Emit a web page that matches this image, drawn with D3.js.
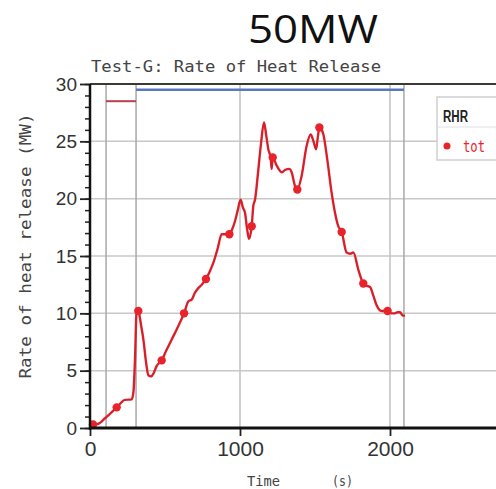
<!DOCTYPE html>
<html><head><meta charset="utf-8">
<script src="https://cdn.jsdelivr.net/npm/d3@7"></script>
<style>html,body{margin:0;padding:0;background:#fff;overflow:hidden}</style>
</head><body>
<svg id="c" width="496" height="489"></svg>
<script>
// ---- data ----
const rhrTime = [0,50,100,178,233,278,290,300,311,322,340,356,375,389,407,425,444,478,510,544,589,627,656,678,700,722,745,773,800,822,850,878,905,929,950,967,985,1004,1020,1033,1048,1060,1078,1089,1100,1122,1140,1160,1175,1189,1205,1211,1218,1244,1278,1300,1329,1344,1367,1382,1411,1444,1471,1490,1507,1520,1529,1545,1556,1582,1611,1633,1655,1678,1711,1735,1756,1789,1822,1845,1867,1890,1911,1944,1984,2010,2033,2050,2067,2085,2100];
const rhrValue = [0.3,0.35,0.85,1.8,2.45,2.5,3.2,6.0,10.2,10.2,9.0,7.7,5.6,4.6,4.5,4.8,5.4,5.9,6.8,7.7,8.9,10.0,11.05,11.2,11.8,12.2,12.5,13.0,13.7,14.4,15.6,16.9,16.9,16.9,17.4,18.05,19.0,19.9,19.2,18.8,17.3,16.5,17.6,19.4,19.9,22.5,24.8,26.65,25.5,24.3,23.5,22.6,23.6,22.9,22.3,22.5,22.6,22.3,21.1,20.8,22.0,24.6,25.6,25.0,24.3,25.5,26.2,26.0,25.6,23.4,20.5,18.8,17.6,17.1,15.3,15.2,15.3,13.8,12.6,12.4,12.3,11.5,10.7,10.2,10.2,10.0,10.0,10.1,10.1,9.8,9.8];
const markerTime = [20,178,322,478,627,773,929,1078,1218,1382,1529,1678,1822,1984];
const markerValue = [0.3,1.8,10.2,5.9,10.0,13.0,16.9,17.6,23.6,20.8,26.2,17.1,12.6,10.2];
const eventTimes = [107,307,2093];
const redBar = {start:107, end:307, level:28.5};
const blueBar = {start:307, end:2093, level:29.5};
const xTicks = [0,1000,2000];
const yTicks = [0,5,10,15,20,25,30];
const mainTitle = "50MW";
const chartTitle = "Test-G: Rate of Heat Release";
const yLabel = "Rate of heat release (MW)";
const legendTitle = "RHR";
const legendItem = "tot";

// ---- drawing ----
const svg = d3.select("#c");
const x = d3.scaleLinear().domain([0,3000]).range([90,540]);
const y = d3.scaleLinear().domain([0,30]).range([428,84]);
const red = "#e8232b";

// horizontal grid
svg.append("g").selectAll("line").data(yTicks.filter(v=>v>0&&v<30)).join("line")
  .attr("x1",x(0)).attr("x2",496).attr("y1",d=>y(d)).attr("y2",d=>y(d))
  .attr("stroke","#c8c8c8").attr("stroke-width",1.5);
// vertical grid
svg.append("g").selectAll("line").data(xTicks.filter(v=>v>0)).join("line")
  .attr("x1",d=>x(d)).attr("x2",d=>x(d)).attr("y1",y(30)).attr("y2",y(0))
  .attr("stroke","#c0c0c0").attr("stroke-width",1.5);
// event lines
svg.append("g").selectAll("line").data(eventTimes).join("line")
  .attr("x1",d=>x(d)).attr("x2",d=>x(d)).attr("y1",y(30)).attr("y2",y(0))
  .attr("stroke","#a8a8a8").attr("stroke-width",1.5);

// bars
svg.append("line").attr("x1",x(redBar.start)).attr("x2",x(redBar.end))
  .attr("y1",y(redBar.level)).attr("y2",y(redBar.level))
  .attr("stroke","#b8404e").attr("stroke-width",2);
svg.append("line").attr("x1",x(blueBar.start)).attr("x2",x(blueBar.end))
  .attr("y1",y(blueBar.level)).attr("y2",y(blueBar.level))
  .attr("stroke","#5a78c0").attr("stroke-width",2.5);

// top border
svg.append("line").attr("x1",x(0)).attr("x2",496).attr("y1",y(30)).attr("y2",y(30))
  .attr("stroke","#3a3a30").attr("stroke-width",2);

// curve
const pts = rhrTime.map((t,i)=>[t,rhrValue[i]]);
const line = d3.line().x(d=>x(d[0])).y(d=>y(d[1])).curve(d3.curveMonotoneX);
svg.append("path").attr("d",line(pts)).attr("fill","none")
  .attr("stroke",red).attr("stroke-width",2.4).attr("stroke-linejoin","round");
svg.append("path").attr("d",line(pts)).attr("fill","none")
  .attr("stroke","#a02030").attr("stroke-width",0.8).attr("opacity",0.6);
// markers
svg.append("g").selectAll("circle").data(markerTime.map((t,i)=>[t,markerValue[i]])).join("circle")
  .attr("cx",d=>x(d[0])).attr("cy",d=>y(d[1])).attr("r",4.2).attr("fill",red);

// axes
const yMinor = d3.axisLeft(y).tickValues(d3.range(0,31,1)).tickSize(5).tickFormat("");
const gym = svg.append("g").attr("transform",`translate(${x(0)},0)`).call(yMinor);
gym.select(".domain").remove();
gym.selectAll("line").attr("stroke","#222").attr("stroke-width",1.5);
const yMajor = d3.axisLeft(y).tickValues(yTicks).tickSize(10).tickPadding(3).tickFormat(d3.format("d"));
const gy = svg.append("g").attr("transform",`translate(${x(0)},0)`).call(yMajor);
gy.select(".domain").remove();
gy.selectAll("line").attr("stroke","#222").attr("stroke-width",1.8);
gy.selectAll("text").attr("font-family","Liberation Sans, Arial, sans-serif")
  .attr("font-size",19).attr("fill","#333");

const xAxis = d3.axisBottom(x).tickValues(xTicks).tickSize(8).tickPadding(5).tickFormat(d3.format("d"));
const gx = svg.append("g").attr("transform",`translate(0,${y(0)})`).call(xAxis);
gx.select(".domain").remove();
gx.selectAll("line").attr("stroke","#222").attr("stroke-width",1.8);
gx.selectAll("text").attr("font-family","Liberation Sans, Arial, sans-serif")
  .attr("font-size",21).attr("fill","#333");
// axis lines
svg.append("line").attr("x1",x(0)).attr("x2",x(0)).attr("y1",y(30)).attr("y2",y(0)+2)
  .attr("stroke","#111").attr("stroke-width",2.5);
svg.append("line").attr("x1",x(0)-1).attr("x2",496).attr("y1",y(0)).attr("y2",y(0))
  .attr("stroke","#111").attr("stroke-width",3);

// titles
svg.append("text").attr("x",313).attr("y",43).attr("text-anchor","middle")
  .attr("font-family","Open Sans, sans-serif").attr("font-size",39)
  .attr("textLength",130).attr("lengthAdjust","spacingAndGlyphs").attr("fill","#111").text(mainTitle);
svg.append("text").attr("x",91).attr("y",72)
  .attr("font-family","DejaVu Sans Mono, monospace").attr("font-size",16)
  .attr("textLength",290).attr("lengthAdjust","spacingAndGlyphs").attr("fill","#444").text(chartTitle);
svg.append("text").attr("transform","translate(31,246) rotate(-90)").attr("text-anchor","middle")
  .attr("font-family","DejaVu Sans Mono, monospace").attr("font-size",15)
  .attr("textLength",265).attr("lengthAdjust","spacingAndGlyphs").attr("fill","#444").text(yLabel);
svg.append("text").attr("x",247).attr("y",486)
  .attr("font-family","DejaVu Sans Mono, monospace").attr("font-size",14)
  .attr("textLength",33).attr("lengthAdjust","spacingAndGlyphs").attr("fill","#444").text("Time");
svg.append("text").attr("x",332).attr("y",486)
  .attr("font-family","DejaVu Sans Mono, monospace").attr("font-size",14)
  .attr("textLength",21).attr("lengthAdjust","spacingAndGlyphs").attr("fill","#444").text("(s)");

// legend
const lg = svg.append("g");
lg.append("rect").attr("x",437).attr("y",97).attr("width",80).attr("height",63)
  .attr("fill","#fff").attr("stroke","#cfcfcf").attr("stroke-width",1.5);
lg.append("line").attr("x1",437).attr("x2",517).attr("y1",127).attr("y2",127)
  .attr("stroke","#e0e0e0").attr("stroke-width",1);
lg.append("text").attr("x",443).attr("y",122).attr("font-family","Liberation Sans, Arial, sans-serif")
  .attr("font-weight","bold").attr("font-size",16).attr("textLength",25)
  .attr("lengthAdjust","spacingAndGlyphs").attr("fill","#222").text(legendTitle);
lg.append("circle").attr("cx",447).attr("cy",146).attr("r",3.5).attr("fill",red);
lg.append("text").attr("x",463).attr("y",152).attr("font-family","DejaVu Sans Mono, monospace")
  .attr("font-size",15).attr("textLength",22).attr("lengthAdjust","spacingAndGlyphs")
  .attr("fill",red).text(legendItem);
</script>
</body></html>
